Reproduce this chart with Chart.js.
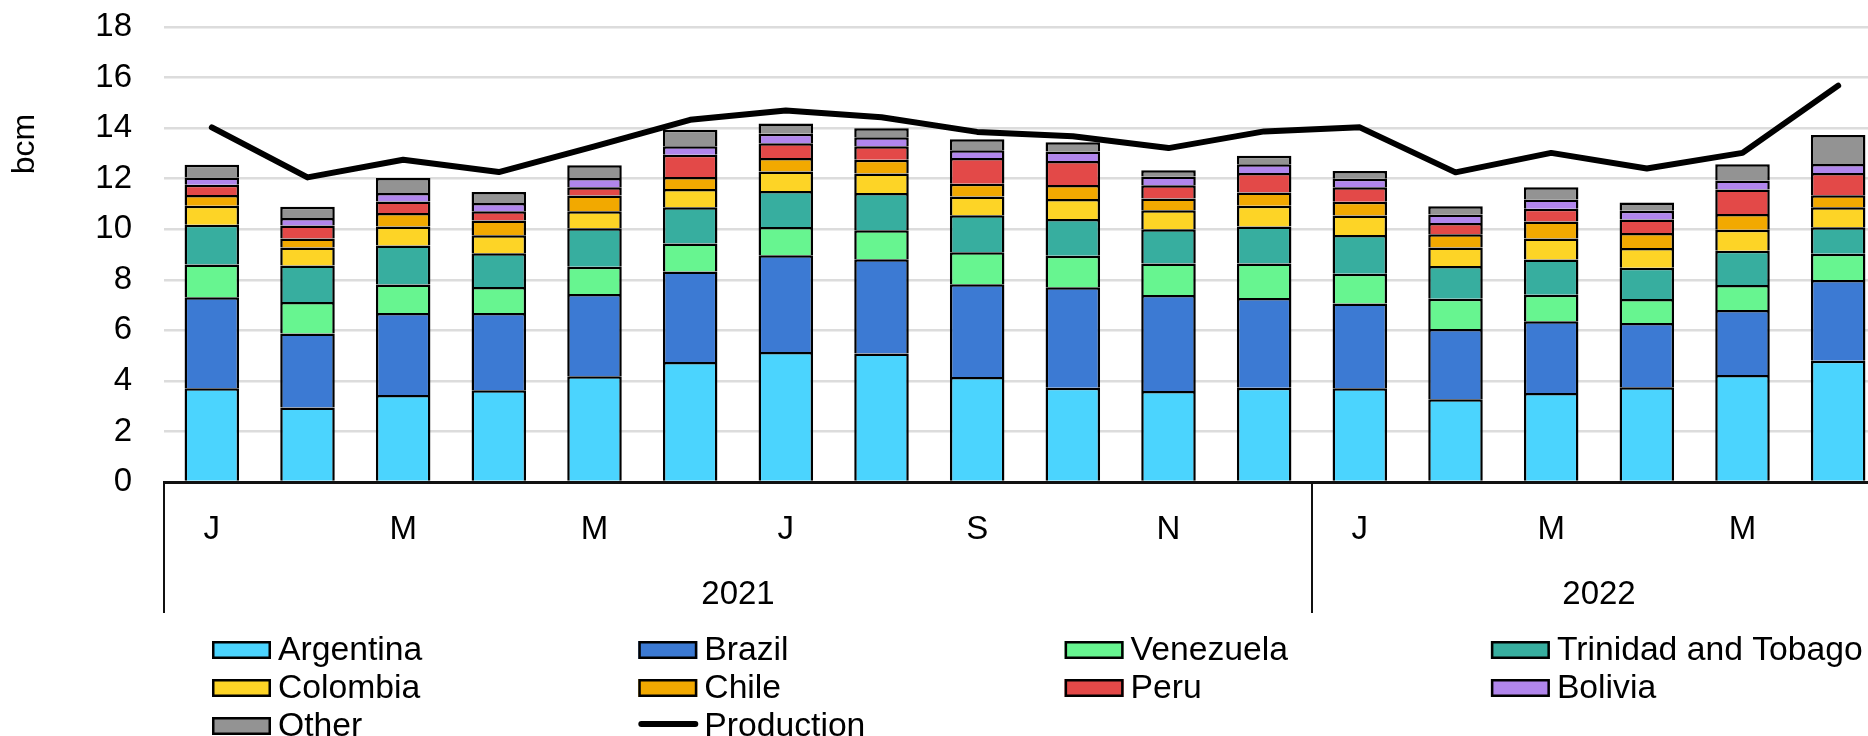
<!DOCTYPE html>
<html>
<head>
<meta charset="utf-8">
<script src="https://cdn.jsdelivr.net/npm/chart.js@4.4.1/dist/chart.umd.min.js"></script>
<style>
    html, body { margin: 0; padding: 0; background: #fff; overflow: hidden; }
    #wrap { position: relative; width: 1886px; height: 736px; }
</style>
</head>
<body>
<div id="wrap"><canvas id="supply-chart"></canvas></div>
<script>
    // Months Jan 2021 - Jun 2022 (only every other one is printed on the axis)
    var months = ['J', 'F', 'M', 'A', 'M', 'J', 'J', 'A', 'S', 'O', 'N', 'D',
                  'J', 'F', 'M', 'A', 'M', 'J'];
    var years = ['2021', '2022'];
    var yearSpans = [12, 6];
    var yTicks = [0, 2, 4, 6, 8, 10, 12, 14, 16, 18];

    // bcm per month
    var argentina = [3.71, 2.95, 3.44, 3.63, 4.18, 4.75, 5.14, 5.08, 4.15, 3.73, 3.60, 3.73, 3.71, 3.27, 3.52, 3.75, 4.23, 4.80];
    var brazil    = [3.60, 2.92, 3.25, 3.06, 3.26, 3.58, 3.83, 3.73, 3.67, 3.97, 3.80, 3.55, 3.35, 2.78, 2.84, 2.54, 2.57, 3.19];
    var venezuela = [1.29, 1.25, 1.12, 1.02, 1.08, 1.11, 1.12, 1.15, 1.27, 1.25, 1.24, 1.36, 1.18, 1.20, 1.05, 0.95, 0.99, 1.04];
    var trinidad  = [1.58, 1.44, 1.55, 1.34, 1.52, 1.43, 1.42, 1.47, 1.46, 1.45, 1.36, 1.47, 1.53, 1.30, 1.39, 1.24, 1.36, 1.05];
    var colombia  = [0.75, 0.72, 0.75, 0.71, 0.67, 0.72, 0.77, 0.77, 0.74, 0.80, 0.75, 0.82, 0.77, 0.73, 0.83, 0.78, 0.83, 0.79];
    var chile     = [0.42, 0.35, 0.53, 0.59, 0.62, 0.48, 0.54, 0.55, 0.51, 0.55, 0.47, 0.52, 0.55, 0.52, 0.68, 0.59, 0.62, 0.47];
    var peru      = [0.41, 0.52, 0.46, 0.36, 0.33, 0.88, 0.58, 0.53, 1.02, 0.95, 0.52, 0.77, 0.57, 0.45, 0.50, 0.53, 0.97, 0.88];
    var bolivia   = [0.29, 0.29, 0.33, 0.33, 0.37, 0.33, 0.38, 0.36, 0.30, 0.37, 0.35, 0.35, 0.34, 0.33, 0.37, 0.35, 0.36, 0.36];
    var other     = [0.50, 0.45, 0.60, 0.43, 0.50, 0.66, 0.40, 0.35, 0.44, 0.37, 0.24, 0.34, 0.30, 0.33, 0.48, 0.33, 0.64, 1.15];
    var production = [14.03, 12.05, 12.75, 12.26, 13.28, 14.33, 14.70, 14.43, 13.85, 13.68, 13.21, 13.87, 14.03, 12.25, 13.02, 12.40, 13.02, 15.68];

    var FONT = 'Liberation Sans, Arial, sans-serif';
    Chart.defaults.font.family = FONT;
    Chart.defaults.color = '#000';

    function barSet(label, data, color) {
        return {
            type: 'bar',
            label: label,
            data: data,
            backgroundColor: color,
            borderColor: '#000',
            borderWidth: 2.5,
            stack: 'supply',
            order: 1,
            categoryPercentage: 1,
            barPercentage: 0.57
        };
    }

    // x-axis month/year labels and group separators
    var xLabels = {
        id: 'xLabels',
        afterDraw: function (chart) {
            var ctx = chart.ctx, x = chart.scales.x, area = chart.chartArea;
            var step = x.getPixelForValue(1) - x.getPixelForValue(0);
            ctx.save();
            ctx.fillStyle = '#000';
            ctx.textAlign = 'center';
            ctx.textBaseline = 'middle';
            ctx.font = '33px ' + FONT;
            months.forEach(function (m, i) {
                if (i % 2 === 0) ctx.fillText(m, x.getPixelForValue(i), 530);
            });
            ctx.strokeStyle = '#111';
            ctx.lineWidth = 2;
            var start = 0;
            years.forEach(function (yr, g) {
                var left = x.getPixelForValue(start) - step / 2;
                var right = x.getPixelForValue(start + yearSpans[g] - 1) + step / 2;
                ctx.beginPath();
                ctx.moveTo(left, area.bottom);
                ctx.lineTo(left, 613);
                ctx.stroke();
                ctx.fillText(yr, (left + right) / 2, 595);
                start += yearSpans[g];
            });
            // axis title
            ctx.translate(25, 144);
            ctx.rotate(-Math.PI / 2);
            ctx.font = '32px ' + FONT;
            ctx.fillText('bcm', 0, 0);
            ctx.restore();
        }
    };

    // legend laid out in 4 columns under the axis
    var gridLegend = {
        id: 'gridLegend',
        afterDraw: function (chart) {
            var ctx = chart.ctx;
            ctx.save();
            ctx.font = '33.7px ' + FONT;
            ctx.textBaseline = 'middle';
            ctx.textAlign = 'left';
            chart.data.datasets.forEach(function (ds, i) {
                var col = i % 4, row = Math.floor(i / 4);
                var x = 212 + col * 426.3;
                var y = 650 + row * 38;
                if (ds.type === 'line') {
                    ctx.strokeStyle = '#000';
                    ctx.lineWidth = 6;
                    ctx.lineCap = 'round';
                    ctx.beginPath();
                    ctx.moveTo(x + 3, y - 2);
                    ctx.lineTo(x + 57, y - 2);
                    ctx.stroke();
                } else {
                    ctx.fillStyle = ds.backgroundColor;
                    ctx.fillRect(x, y - 9, 59, 18);
                    ctx.strokeStyle = '#000';
                    ctx.lineWidth = 2.5;
                    ctx.strokeRect(x + 1.25, y - 7.75, 56.5, 15.5);
                }
                ctx.fillStyle = '#000';
                ctx.fillText(ds.label, x + 66, y + 1);
            });
            ctx.restore();
        }
    };

    var ctx1 = document.getElementById('supply-chart').getContext('2d');
    var supplyChart = new Chart(ctx1, {
        data: {
            labels: months,
            datasets: [
                barSet('Argentina', argentina, '#4BD4FE'),
                barSet('Brazil', brazil, '#3C7AD3'),
                barSet('Venezuela', venezuela, '#67F590'),
                barSet('Trinidad and Tobago', trinidad, '#37AE9F'),
                barSet('Colombia', colombia, '#FDD426'),
                barSet('Chile', chile, '#F2A900'),
                barSet('Peru', peru, '#E34948'),
                barSet('Bolivia', bolivia, '#B186EC'),
                barSet('Other', other, '#939393'),
                {
                    type: 'line',
                    label: 'Production',
                    data: production,
                    borderColor: '#000',
                    backgroundColor: '#000',
                    borderWidth: 6,
                    borderCapStyle: 'round',
                    borderJoinStyle: 'round',
                    pointRadius: 0,
                    tension: 0,
                    stack: 'prod',
                    order: 0
                }
            ]
        },
        options: {
            responsive: true,
            maintainAspectRatio: false,
            animation: false,
            layout: { padding: { top: 27, left: 0, right: 0, bottom: 0 } },
            plugins: {
                legend: { display: false },
                tooltip: { enabled: false }
            },
            scales: {
                x: {
                    stacked: true,
                    grid: { display: false },
                    border: { display: true, color: '#111', width: 3 },
                    ticks: { display: false },
                    afterFit: function (scale) { scale.height = 254; }
                },
                y: {
                    stacked: true,
                    min: yTicks[0],
                    max: yTicks[yTicks.length - 1],
                    afterBuildTicks: function (scale) {
                        scale.ticks = yTicks.map(function (v) { return { value: v }; });
                    },
                    grid: {
                        color: '#dcdcdc',
                        lineWidth: 2.5,
                        drawTicks: true,
                        tickLength: 32,
                        tickColor: 'rgba(0,0,0,0)'
                    },
                    border: { display: false },
                    ticks: { font: { size: 33 }, color: '#000', padding: 0 },
                    afterFit: function (scale) { scale.width = 164; }
                }
            }
        },
        plugins: [xLabels, gridLegend]
    });
</script>
</body>
</html>
